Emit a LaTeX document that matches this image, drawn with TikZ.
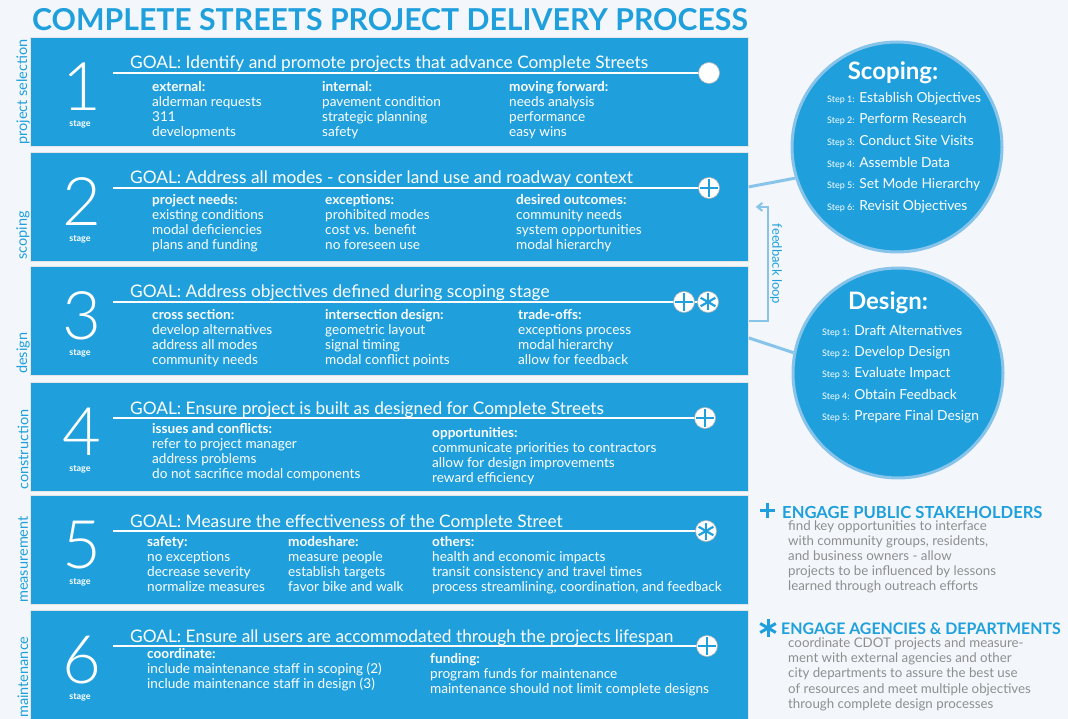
\documentclass[tikz,border=0pt]{standalone}
\usepackage{fontspec}
\setmainfont{Lato}
\IfFontExistsTF{Lato Light}{\newfontfamily\numeralfont{Lato Light}}{\newfontfamily\numeralfont{Lato}}
\usetikzlibrary{arrows.meta}

\definecolor{streetBlue}{HTML}{1FA0DC}
\definecolor{paleBg}{HTML}{F3F7FB}
\definecolor{linkBlue}{HTML}{88C4EA}
\definecolor{noteGray}{HTML}{8E8E8E}

% small round markers at the end of each goal line
\newcommand{\blankIcon}[1]{\draw[icondisc] (#1,36) circle (10.5);}
\newcommand{\plusIcon}[1]{\blankIcon{#1}
  \draw[markline] (#1-9,36) -- (#1+9,36) (#1,27) -- (#1,45);}
\newcommand{\starIcon}[1]{\blankIcon{#1}
  \foreach \a in {90,30,150} \draw[markline,line width=2.2pt] (#1,36) ++(\a:8.5) -- ++(\a+180:17);}

% one column of a stage: name, x, y, heading, lines
\newcommand{\stageColumn}[5]{\node[column] (#1) at (#2,#3) {\textbf{#4}\\#5};}

% step label inside the discs
\newcommand{\stepTag}[1]{{\fontsize{9}{9}\selectfont Step #1:}}

% one stage band: top, number, side label, goal, contents
\newcommand{\stageBand}[5]{%
  \begin{scope}[shift={(0,#1)}]
    \node[band] (band#2) at (30,0) {};
    \node[numeral] (num#2) at (82,50) {#2};
    \node[stagetag] (stage#2) at (80,87.5) {stage};
    \node[sidelabel] (side#2) at (23,108) {#3};
    \node[goaltext] (goal#2) at (130,32) {GOAL: #4};
    \draw[goalline] (113,36) -- (700,36);
    #5
  \end{scope}}

\begin{document}
\begin{tikzpicture}[x=1pt,y=-1pt,
  band/.style={fill=streetBlue,draw=white!80!gray,line width=0.8pt,anchor=north west,
    minimum width=718pt,minimum height=109pt,inner sep=0pt},
  numeral/.style={text=white,font=\numeralfont\fontsize{67}{67}\selectfont,inner sep=0pt},
  stagetag/.style={text=white,font=\bfseries\fontsize{9}{9}\selectfont,inner sep=0pt},
  sidelabel/.style={text=streetBlue,rotate=90,anchor=west,font=\fontsize{14.5}{14.5}\selectfont,inner sep=0pt},
  goaltext/.style={text=white,anchor=base west,font=\fontsize{17.3}{17.3}\selectfont,inner sep=0pt},
  goalline/.style={draw=white,line width=2.4pt},
  column/.style={text=white,anchor=north west,align=left,inner sep=0pt,font=\fontsize{13.6}{15}\selectfont},
  icondisc/.style={fill=white,draw=gray!55,line width=0.6pt},
  markline/.style={draw=streetBlue,line width=2.6pt},
  disc/.style={circle,fill=streetBlue,draw=linkBlue,line width=3pt,minimum size=210pt,inner sep=0pt},
  disctitle/.style={text=white,font=\bfseries\fontsize{24}{24}\selectfont,inner sep=0pt},
  steps/.style={text=white,anchor=north west,align=left,inner sep=0pt},
  link/.style={draw=linkBlue,line width=3pt},
  loopline/.style={draw=linkBlue,line width=2pt,-{Straight Barb[length=5pt,width=8pt]}},
  notehead/.style={text=streetBlue,anchor=west,font=\bfseries\fontsize{16.6}{16.6}\selectfont,inner sep=0pt},
  notebody/.style={text=noteGray,anchor=north west,align=left,inner sep=0pt,font=\fontsize{13.3}{15}\selectfont}]

  \path[use as bounding box] (0,0) rectangle (1068,719);
  \fill[paleBg] (0,0) rectangle (1068,719);

  \node[text=streetBlue,font=\bfseries\fontsize{30.2}{30.2}\selectfont,inner sep=0pt] (title) at (390,20)
    {COMPLETE STREETS PROJECT DELIVERY PROCESS};

  \stageBand{37}{1}{project selection}{Identify and promote projects that advance Complete Streets}{%
    \stageColumn{ext}{152}{44}{external:}{alderman requests\\311\\developments}
    \stageColumn{int}{322}{44}{internal:}{pavement condition\\strategic planning\\safety}
    \stageColumn{fwd}{509}{44}{moving forward:}{needs analysis\\performance\\easy wins}
    \blankIcon{709}}

  \stageBand{152}{2}{scoping}{Address all modes - consider land use and roadway context}{%
    \stageColumn{needs}{152}{42}{project needs:}{existing conditions\\modal deficiencies\\plans and funding}
    \stageColumn{exc}{325}{42}{exceptions:}{prohibited modes\\cost vs. benefit\\no foreseen use}
    \stageColumn{outc}{516}{42}{desired outcomes:}{community needs\\system opportunities\\modal hierarchy}
    \plusIcon{709}}

  \stageBand{266}{3}{design}{Address objectives defined during scoping stage}{%
    \stageColumn{xsec}{152}{43}{cross section:}{develop alternatives\\address all modes\\community needs}
    \stageColumn{isec}{325}{43}{intersection design:}{geometric layout\\signal timing\\modal conflict points}
    \stageColumn{trade}{518}{43}{trade-offs:}{exceptions process\\modal hierarchy\\allow for feedback}
    \plusIcon{684}
    \starIcon{708}}

  \stageBand{382}{4}{construction}{Ensure project is built as designed for Complete Streets}{%
    \stageColumn{issues}{152}{41}{issues and conflicts:}{refer to project manager\\address problems\\do not sacrifice modal components}
    \stageColumn{opp}{432}{45}{opportunities:}{communicate priorities to contractors\\allow for design improvements\\reward efficiency}
    \plusIcon{705}}

  \stageBand{495}{5}{measurement}{Measure the effectiveness of the Complete Street}{%
    \stageColumn{safe}{147}{41}{safety:}{no exceptions\\decrease severity\\normalize measures}
    \stageColumn{mode}{288}{41}{modeshare:}{measure people\\establish targets\\favor bike and walk}
    \stageColumn{other}{432}{41}{others:}{health and economic impacts\\transit consistency and travel times\\process streamlining, coordination, and feedback}
    \starIcon{706}}

  \stageBand{610}{6}{maintenance}{Ensure all users are accommodated through the projects lifespan}{%
    \stageColumn{coord}{147}{38}{coordinate:}{include maintenance staff in scoping (2)\\include maintenance staff in design (3)}
    \stageColumn{fund}{430}{43}{funding:}{program funds for maintenance\\maintenance should not limit complete designs}
    \plusIcon{707}}

  % sub-process discs
  \node[disc] (scoping) at (897,147) {};
  \node[disctitle] (scopingTitle) at (893,73) {Scoping:};
  \node[steps,font=\fontsize{13.8}{21.6}\selectfont] (scopingSteps) at (827,92) {%
    \stepTag{1} Establish Objectives\\
    \stepTag{2} Perform Research\\
    \stepTag{3} Conduct Site Visits\\
    \stepTag{4} Assemble Data\\
    \stepTag{5} Set Mode Hierarchy\\
    \stepTag{6} Revisit Objectives};

  \node[disc] (design) at (898,373) {};
  \node[disctitle] (designTitle) at (888,303) {Design:};
  \node[steps,font=\fontsize{13.8}{21.25}\selectfont] (designSteps) at (822,325) {%
    \stepTag{1} Draft Alternatives\\
    \stepTag{2} Develop Design\\
    \stepTag{3} Evaluate Impact\\
    \stepTag{4} Obtain Feedback\\
    \stepTag{5} Prepare Final Design};

  \draw[link] ([yshift=20pt]band2.east) -- (scoping.197);
  \draw[link] ([yshift=-17pt]band3.east) -- (design.169);
  \draw[loopline] (band3.east) -- ++(19,0) |- ([xshift=7pt]band2.east);
  \node[text=streetBlue,rotate=-90,font=\fontsize{13}{13}\selectfont,inner sep=0pt] (loopLabel) at (776,264) {feedback loop};

  % legend
  \draw[markline,line width=3pt] (760,510) -- (775,510) (767.5,502.5) -- (767.5,517.5);
  \node[notehead] (pubHead) at (782,512) {ENGAGE PUBLIC STAKEHOLDERS};
  \node[notebody] (pubBody) at (788,521) {find key opportunities to interface\\with community groups, residents,\\and business owners - allow\\projects to be influenced by lessons\\learned through outreach efforts};

  \foreach \a in {90,30,150} \draw[markline,line width=3pt] (768,628) ++(\a:9) -- ++(\a+180:18);
  \node[notehead,font=\bfseries\fontsize{15.9}{15.9}\selectfont] (agencyHead) at (781,629) {ENGAGE AGENCIES \& DEPARTMENTS};
  \node[notebody] (agencyBody) at (788,638) {coordinate CDOT projects and measure-\\ment with external agencies and other\\city departments to assure the best use\\of resources and meet multiple objectives\\through complete design processes};
\end{tikzpicture}
\end{document}
